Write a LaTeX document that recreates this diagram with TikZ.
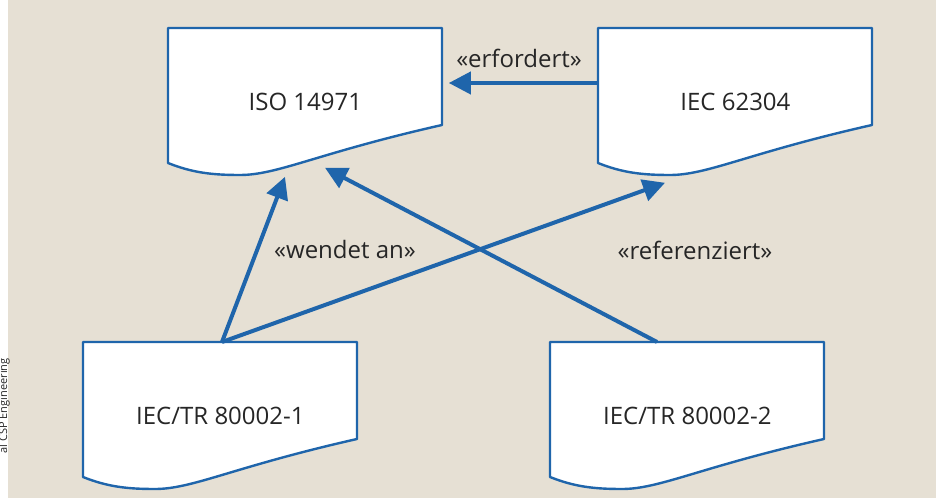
\documentclass[tikz,border=0pt]{standalone}
\usepackage{fontspec}
\setmainfont{Open Sans}
\usetikzlibrary{arrows.meta,calc}
\definecolor{PaperBeige}{HTML}{E6E0D4}
\definecolor{DocBlue}{HTML}{1F65AB}
\definecolor{TextGray}{HTML}{262626}
\tikzset{
  docline/.style={draw=DocBlue,fill=white,line width=1.2pt,line join=round},
  docnode/.style={rectangle,anchor=north west,inner sep=0pt,minimum width=137pt,
    minimum height=73.5pt,font=\fontsize{12}{14}\selectfont,text=TextGray},
  relarrow/.style={draw=DocBlue,line width=2pt,-{Triangle[length=11pt,width=11pt]}},
  stereo/.style={font=\fontsize{12}{14}\selectfont,text=TextGray,inner sep=0pt}
}
\newcommand{\docbox}[4]{%
  \begin{scope}[shift={(#2,#3)}]
    \draw[docline] (0,0) -- (274,0) -- (274,97)
      .. controls (150,125) and (110,147) .. (72,147)
      .. controls (45,147) and (25,145) .. (0,135) -- cycle;
  \end{scope}
  \node[docnode] (#1) at (#2,#3) {#4};
}

\begin{document}
\begin{tikzpicture}[x=0.5pt,y=-0.5pt]
  \useasboundingbox (0,0) rectangle (936,501);
  \fill[white] (0,0) rectangle (936,501);
  \fill[PaperBeige] (8,0) rectangle (936,498);
  \node[rotate=90,anchor=base east,inner sep=0pt,text=TextGray,
    font=\fontsize{5.5}{6}\selectfont] (credit) at (7,358) {al CSP Engineering};

  % documents
  \docbox{iso}{168}{28}{ISO 14971}
  \docbox{iec}{598}{28}{IEC 62304}
  \docbox{trone}{83}{342}{IEC/TR 80002-1}
  \docbox{trtwo}{550}{342}{IEC/TR 80002-2}

  % relations
  \draw[relarrow] ($(iec.north west)+(0,55)$) -- ($(iso.north east)+(6,55)$);
  \node[stereo] (lblreq) at (519,58) {«erfordert»};

  \draw[relarrow] ($(trone.north west)+(139,0)$) -- ($(iso.south west)+(117,1)$);
  \draw[relarrow] ($(trone.north west)+(139,0)$) -- ($(iec.south west)+(67,7)$);
  \node[stereo] (lbluse) at (345,250) {«wendet an»};

  \draw[relarrow] ($(trtwo.north west)+(107,0)$) -- ($(iso.south west)+(157,-8)$);
  \node[stereo] (lblref) at (695,250) {«referenziert»};
\end{tikzpicture}
\end{document}
